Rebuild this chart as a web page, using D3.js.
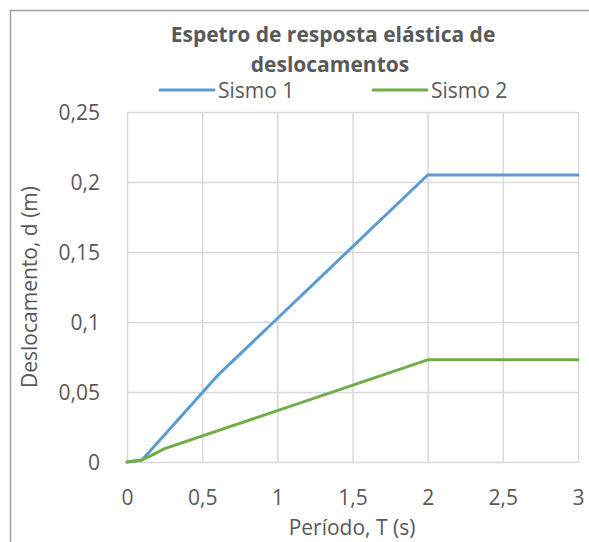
<!DOCTYPE html>
<html>
<head>
<meta charset="utf-8">
<script src="https://cdn.jsdelivr.net/npm/d3@7"></script>
<style>
  body { margin: 0; background: #fff; }
  text { font-family: "Open Sans", sans-serif; fill: #595959; }
</style>
</head>
<body>
<svg id="chart" width="589" height="542"></svg>
<script>
// data
const periods1 = [0, 0.1, 0.6, 2, 3];
const sismo1 = [0, 0.0015, 0.0615, 0.205, 0.205];
const periods2 = [0, 0.1, 0.15, 0.25, 2, 3];
const sismo2 = [0, 0.0015, 0.004, 0.0095, 0.073, 0.073];
const xTicks = [0, 0.5, 1, 1.5, 2, 2.5, 3];
const yTicks = [0, 0.05, 0.1, 0.15, 0.2, 0.25];
const seriesNames = ["Sismo 1", "Sismo 2"];
const colors = ["#5B9BD5", "#70AD47"];

const svg = d3.select("#chart");
const fmt = v => String(v).replace(".", ",");

// outer frame of the chart area
svg.append("rect")
    .attr("x", 10.5).attr("y", 10.5)
    .attr("width", 700).attr("height", 700)
    .attr("fill", "none")
    .attr("stroke", "#a0a0a0")
    .attr("stroke-width", 1.5);

const x = d3.scaleLinear().domain([0, 3]).range([127, 578]);
const y = d3.scaleLinear().domain([0, 0.25]).range([462, 112]);

// gridlines
svg.append("g")
    .attr("transform", "translate(0,462)")
    .call(d3.axisBottom(x).tickValues(xTicks).tickSize(-350).tickFormat(""))
    .call(g => g.select(".domain").remove())
    .call(g => g.selectAll("line").attr("stroke", "#d9d9d9").attr("stroke-width", 1.5));

svg.append("g")
    .attr("transform", "translate(127,0)")
    .call(d3.axisLeft(y).tickValues(yTicks).tickSize(-451).tickFormat(""))
    .call(g => g.select(".domain").remove())
    .call(g => g.selectAll("line").attr("stroke", "#d9d9d9").attr("stroke-width", 1.5));

// tick labels
svg.append("g")
    .attr("transform", "translate(0,462)")
    .call(d3.axisBottom(x).tickValues(xTicks).tickSize(0).tickPadding(0).tickFormat(fmt))
    .call(g => g.select(".domain").remove())
    .call(g => g.selectAll("text")
        .attr("dy", 0).attr("y", 43)
        .style("font-size", "21px")
        .style("font-family", "'Open Sans', sans-serif")
        .attr("fill", "#595959"));

svg.append("g")
    .attr("transform", "translate(127,0)")
    .call(d3.axisLeft(y).tickValues(yTicks).tickSize(0).tickPadding(0).tickFormat(fmt))
    .call(g => g.select(".domain").remove())
    .call(g => g.selectAll("text")
        .attr("x", -27).attr("dy", "0.35em")
        .style("font-size", "21px")
        .style("font-family", "'Open Sans', sans-serif")
        .attr("fill", "#595959"));

// lines
const line = d3.line().x(d => x(d[0])).y(d => y(d[1]));
const series = [
    d3.zip(periods1, sismo1),
    d3.zip(periods2, sismo2)
];
series.forEach((s, i) => {
    svg.append("path")
        .datum(s)
        .attr("d", line)
        .attr("fill", "none")
        .attr("stroke", colors[i])
        .attr("stroke-width", 3)
        .attr("stroke-linejoin", "round")
        .attr("stroke-linecap", "round");
});

// title
svg.append("text")
    .attr("x", 333).attr("y", 42)
    .attr("text-anchor", "middle")
    .style("font-size", "21px").style("font-weight", "bold")
    .text("Espetro de resposta elástica de");
svg.append("text")
    .attr("x", 330).attr("y", 72)
    .attr("text-anchor", "middle")
    .style("font-size", "21px").style("font-weight", "bold")
    .text("deslocamentos");

// legend
const legendX = [160, 373];
seriesNames.forEach((name, i) => {
    svg.append("line")
        .attr("x1", legendX[i]).attr("x2", legendX[i] + 54)
        .attr("y1", 90).attr("y2", 90)
        .attr("stroke", colors[i]).attr("stroke-width", 3)
        .attr("stroke-linecap", "round");
    svg.append("text")
        .attr("x", legendX[i] + 58).attr("y", 98)
        .style("font-size", "21px")
        .text(name);
});

// axis titles
svg.append("text")
    .attr("x", 352).attr("y", 535)
    .attr("text-anchor", "middle")
    .style("font-size", "21px")
    .text("Período, T (s)");

svg.append("text")
    .attr("transform", "translate(37,287) rotate(-90)")
    .attr("text-anchor", "middle")
    .style("font-size", "21px")
    .text("Deslocamento, d (m)");
</script>
</body>
</html>
